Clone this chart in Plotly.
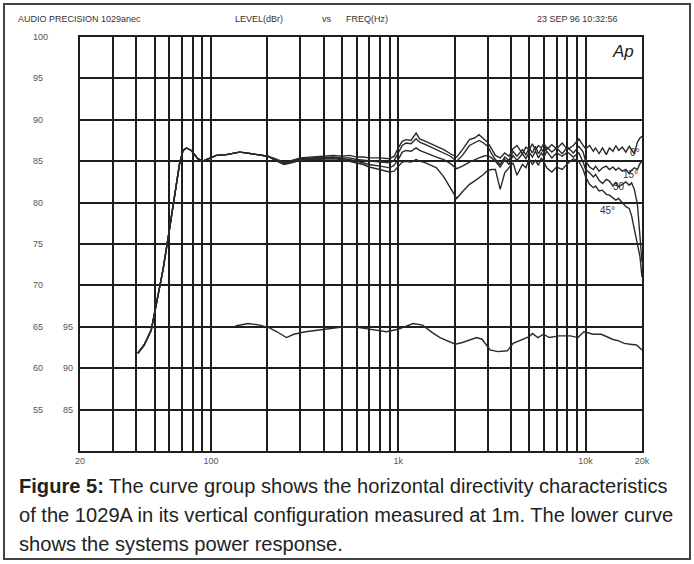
import math
import plotly.graph_objects as go

# ---------------- data ----------------
# shared low-frequency part (all angles coincide)
freq_lf = [40.7, 44, 48, 51, 55.4, 60, 64, 68, 71, 74, 78.5, 85, 90.5, 98, 107, 121, 142, 154, 182, 201]
level_lf = [61.8, 62.8, 64.6, 67.8, 71.8, 76.7, 80.7, 84.7, 86.3, 86.6, 86.3, 85.3, 85.0, 85.3, 85.7, 85.8, 86.1, 86.0, 85.8, 85.6]

freq_hf = [220, 245, 270, 300, 350, 400, 450, 500, 550, 600, 650, 700, 800, 900, 950, 1000, 1050, 1100,
           1170, 1245, 1300, 1400, 1500, 1600, 1750, 1900, 2050, 2200, 2400, 2550, 2700, 2850, 3000, 3150,
           3300, 3500, 3700, 3900, 4100, 4300, 4600, 4800, 5000, 5200, 5400, 5600, 5800, 6000, 6200, 6600,
           7000, 7500, 8000, 8600, 9200, 9700, 10000, 10500, 11000, 11300, 11800, 12300, 12900, 13400,
           14000, 14500, 15000, 15700, 16400, 17100, 17600, 18200, 18900, 19500, 20000]

level_0 = [85.3, 84.9, 85.1, 85.4, 85.5, 85.6, 85.7, 85.6, 85.7, 85.5, 85.5, 85.4, 85.4, 85.3, 85.6, 86.6, 87.4, 87.6,
           87.5, 88.4, 87.7, 87.4, 87.1, 86.8, 86.4, 85.9, 85.5, 86.4, 87.6, 87.8, 88.2, 87.7, 87.3, 86.5,
           85.7, 85.4, 86.0, 85.6, 86.5, 86.9, 85.9, 86.7, 86.4, 87.1, 86.3, 86.9, 86.6, 87.2, 86.4, 87.0,
           86.5, 87.2, 86.4, 86.9, 87.7, 86.9, 86.5, 86.9, 86.2, 86.6, 85.9, 86.6, 85.8, 86.6,
           86.2, 86.9, 86.3, 86.7, 86.1, 86.8, 86.4, 85.9, 87.3, 87.8, 88.0]

level_15 = [85.2, 84.8, 85.0, 85.3, 85.4, 85.5, 85.5, 85.4, 85.4, 85.2, 85.1, 85.0, 84.9, 84.8, 85.1, 86.0, 86.9, 87.2,
            87.1, 87.7, 87.3, 87.0, 86.7, 86.4, 86.0, 85.6, 85.0, 85.7, 86.9, 87.2, 87.5, 87.2, 86.8, 85.9,
            85.2, 84.6, 85.5, 85.1, 86.2, 85.6, 86.4, 85.8, 86.6, 86.0, 86.8, 85.9, 86.5, 86.0, 86.7, 86.1,
            86.6, 85.9, 86.7, 86.0, 86.8, 86.1, 85.0, 84.3, 84.0, 84.4, 83.8, 84.2, 84.4, 84.0,
            84.3, 83.9, 84.2, 83.8, 84.0, 83.5, 83.9, 84.2, 84.0, 84.7, 85.0]

level_30 = [85.2, 84.7, 84.9, 85.2, 85.3, 85.4, 85.4, 85.3, 85.2, 85.0, 84.8, 84.6, 84.4, 84.2, 84.5, 85.2, 86.1, 86.3,
            86.2, 86.6, 86.3, 86.0, 85.8, 85.5, 85.2, 84.7, 84.1, 84.4, 84.9, 85.2, 85.4, 85.6, 85.7, 85.4,
            85.0, 84.3, 85.2, 84.6, 85.7, 85.1, 85.9, 85.3, 86.1, 85.5, 86.2, 85.4, 86.0, 85.5, 86.2, 85.4,
            86.0, 85.6, 86.1, 85.5, 86.0, 84.9, 84.0, 83.6, 83.1, 83.4, 82.7, 82.3, 82.8, 82.6,
            82.0, 82.4, 81.9, 82.2, 82.5, 82.1, 82.4, 81.6, 79.8, 76.0, 72.8]

level_45 = [85.1, 84.6, 84.8, 85.1, 85.2, 85.3, 85.3, 85.2, 85.0, 84.8, 84.6, 84.3, 84.0, 83.7, 83.8, 84.4, 84.9, 85.0,
            84.9, 85.2, 85.0, 84.8, 84.5, 84.2, 83.1, 81.7, 80.5, 81.3, 82.2, 82.6, 83.0, 83.4, 83.9, 84.0,
            84.0, 81.6, 83.6, 84.2, 84.8, 83.3, 84.6, 84.2, 85.3, 84.6, 85.1, 84.5, 85.4, 84.9, 84.2, 83.7,
            84.3, 84.0, 84.7, 85.3, 85.0, 84.0, 83.1, 82.2, 81.8, 82.0, 81.4, 81.5, 81.0, 80.9,
            80.6, 80.3, 80.5, 80.0, 79.5, 79.3, 78.4, 76.8, 75.2, 73.5, 71.0]

# power response (right-hand scale, dB)
freq_power = [135, 158, 182, 204, 225, 253, 277, 320, 406, 513, 620, 750, 866, 995, 1100, 1200, 1350, 1520,
              1670, 1850, 2015, 2200, 2330, 2620, 2800, 3090, 3400, 3820, 4100, 4400, 4720, 5000, 5200, 5560,
              5960, 6400, 7220, 8300, 9100, 9800, 11000, 12100, 13000, 13900, 15000, 16100, 17300, 18700, 20000]
level_power = [95.1, 95.4, 95.2, 94.9, 94.4, 93.7, 94.1, 94.4, 94.7, 95.0, 94.9, 94.6, 94.4, 94.7, 95.1, 95.4, 95.2, 94.3,
               93.7, 93.3, 92.9, 93.1, 93.3, 93.7, 93.5, 92.2, 92.0, 92.1, 93.0, 93.3, 93.6, 93.8, 94.2, 93.7,
               94.1, 93.7, 93.9, 93.9, 93.7, 94.4, 94.1, 94.1, 93.8, 93.5, 93.3, 93.0, 92.9, 92.8, 92.2]

# curve labels
label_text = ["0°", "15°", "30", "45°"]
label_freq = [18300, 17400, 15100, 13100]
label_level = [86.1, 83.4, 81.9, 79.1]

# axes
x_grid = [20, 30, 40, 50, 60, 70, 80, 90, 100, 200, 300, 400, 500, 600, 700, 800, 900,
          1000, 2000, 3000, 4000, 5000, 6000, 7000, 8000, 9000, 10000, 20000]
x_labels = {20: "20", 100: "100", 1000: "1k", 10000: "10k", 20000: "20k"}
y_left_ticks = [100, 95, 90, 85, 80, 75, 70, 65, 60, 55]
y_right_ticks = [95, 90, 85]

# ---------------- layout geometry ----------------
W, H = 694, 564
L, R, T, B = 80, 52, 37, 113
PW, PH = W - L - R, H - T - B


def px(x):
    return (x - L) / PW


def py(y):
    return (H - B - y) / PH


INK = "#1e1e1e"
GREY = "#555555"
SMALL = dict(family="Liberation Sans, Arial, sans-serif", size=9, color=GREY)

fig = go.Figure()

curves = [level_0, level_15, level_30, level_45]
for lv in curves:
    fig.add_trace(go.Scatter(x=freq_lf + freq_hf, y=level_lf + lv, mode="lines",
                             line=dict(color="#2a2a2a", width=1.4), showlegend=False,
                             hoverinfo="skip"))

fig.add_trace(go.Scatter(x=freq_power, y=level_power, yaxis="y2", mode="lines",
                         line=dict(color="#2a2a2a", width=1.4), showlegend=False, hoverinfo="skip"))

fig.update_layout(
    width=W, height=H,
    margin=dict(l=L, r=R, t=T, b=B, autoexpand=False),
    paper_bgcolor="white", plot_bgcolor="white",
    xaxis=dict(type="log", range=[math.log10(20), math.log10(20000)],
               tickvals=x_grid, ticktext=[x_labels.get(v, "") for v in x_grid],
               showgrid=True, gridcolor=INK, gridwidth=1.7,
               showline=True, mirror=True, linecolor=INK, linewidth=2,
               ticks="", tickfont=SMALL, zeroline=False),
    yaxis=dict(range=[50, 100], tickvals=y_left_ticks, showticklabels=False,
               showgrid=True, gridcolor=INK, gridwidth=1.7,
               showline=True, mirror=True, linecolor=INK, linewidth=2,
               ticks="", zeroline=False),
    yaxis2=dict(range=[80, 130], overlaying="y", side="left", anchor="x",
                tickvals=y_right_ticks, showgrid=False, zeroline=False, showline=False,
                ticks="", tickfont=SMALL, ticklabelstandoff=6),
)

ann = []
# left-hand level scale
for v in y_left_ticks:
    ann.append(dict(text=str(v), xref="paper", yref="y", x=px(31), y=v, xanchor="left",
                    yanchor="middle", showarrow=False, font=SMALL))

# header
hdr = dict(family="Liberation Sans, Arial, sans-serif", size=9, color="#333333")
ann.append(dict(text="AUDIO PRECISION 1029anec", xref="paper", yref="paper", x=px(16), y=py(19),
                xanchor="left", yanchor="middle", showarrow=False, font=hdr))
ann.append(dict(text="LEVEL(dBr)", xref="paper", yref="paper", x=px(233), y=py(19),
                xanchor="left", yanchor="middle", showarrow=False, font=hdr))
ann.append(dict(text="vs", xref="paper", yref="paper", x=px(320), y=py(19),
                xanchor="left", yanchor="middle", showarrow=False, font=hdr))
ann.append(dict(text="FREQ(Hz)", xref="paper", yref="paper", x=px(344), y=py(19),
                xanchor="left", yanchor="middle", showarrow=False, font=hdr))
ann.append(dict(text="23 SEP 96 10:32:56", xref="paper", yref="paper", x=px(619), y=py(19),
                xanchor="right", yanchor="middle", showarrow=False, font=hdr))
ann.append(dict(text="<i>Ap</i>", xref="paper", yref="paper", x=px(623), y=py(51),
                xanchor="center", yanchor="middle", showarrow=False,
                font=dict(family="Liberation Sans, Arial, sans-serif", size=17, color="#222")))

# curve labels
for t, f, v in zip(label_text, label_freq, label_level):
    ann.append(dict(text=t, xref="x", yref="y", x=math.log10(f), y=v, xanchor="center",
                    yanchor="middle", showarrow=False,
                    font=dict(family="Liberation Sans, Arial, sans-serif", size=10, color="#333")))

# caption
cap = dict(family="Liberation Sans, Arial, sans-serif", size=20.1, color="#222")
caption = ["<b>Figure 5:</b> The curve group shows the horizontal directivity characteristics",
           "of the 1029A in its vertical configuration measured at 1m. The lower curve",
           "shows the systems power response."]
for i, line in enumerate(caption):
    ann.append(dict(text=line, xref="paper", yref="paper", x=px(17), y=py(486 + 29 * i),
                    xanchor="left", yanchor="middle", showarrow=False, font=cap))

fig.update_layout(annotations=ann)

# outer frame
fig.add_shape(type="rect", xref="paper", yref="paper", x0=px(4), x1=px(690), y0=py(559), y1=py(4),
              line=dict(color="#444", width=2))

fig.write_html("out.html", config={"displayModeBar": False},
               post_script="document.body.style.margin='0';document.body.style.overflow='hidden';")
